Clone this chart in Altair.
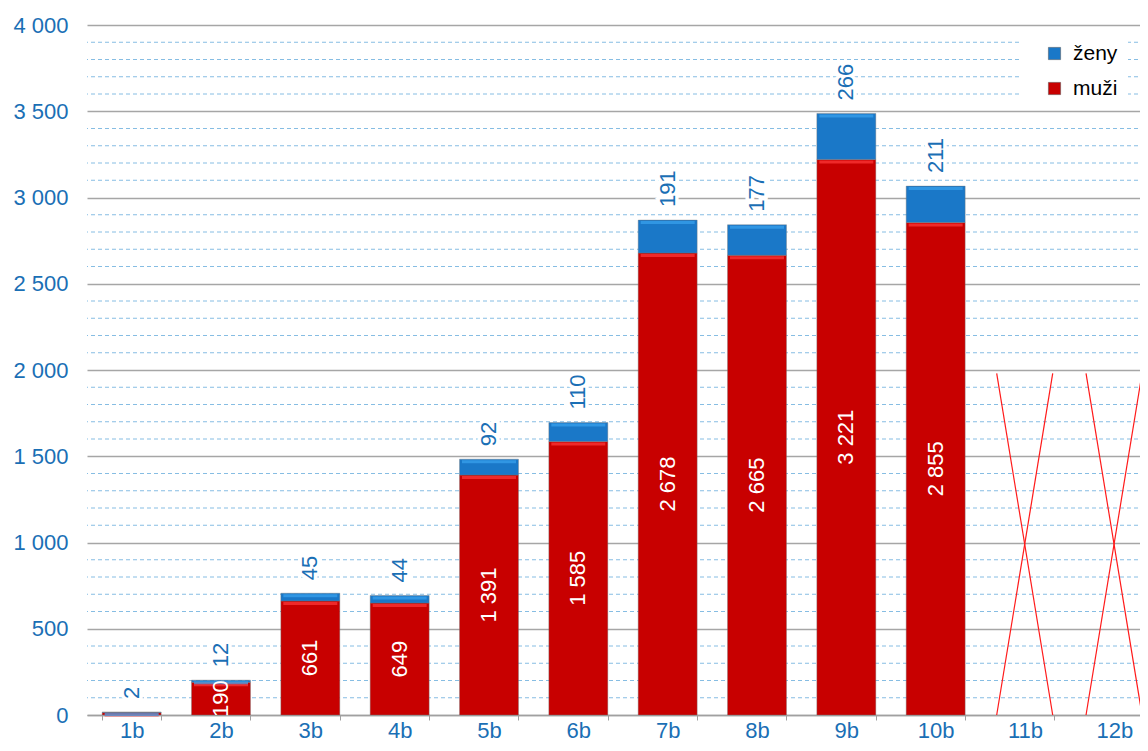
import altair as alt
import pandas as pd

# ---- data ----
categories = ["1b", "2b", "3b", "4b", "5b", "6b", "7b", "8b", "9b", "10b", "11b", "12b"]
data_categories = ["1b", "2b", "3b", "4b", "5b", "6b", "7b", "8b", "9b", "10b"]
muzi = [15, 190, 661, 649, 1391, 1585, 2678, 2665, 3221, 2855]
zeny = [2, 12, 45, 44, 92, 110, 191, 177, 266, 211]
muzi_labels = ["", "190", "661", "649", "1 391", "1 585", "2 678", "2 665", "3 221", "2 855"]
zeny_labels = ["2", "12", "45", "44", "92", "110", "191", "177", "266", "211"]
series = ["ženy", "muži"]
series_colors = ["#1a78c8", "#c80000"]
y_ticks = [0, 500, 1000, 1500, 2000, 2500, 3000, 3500, 4000]
minor_ticks = [v for v in range(100, 4000, 100) if v % 500 != 0]
crossed_categories = ["11b", "12b"]
cross_top = 1980

# ---- tables ----
long_rows = []
for c, m, z in zip(data_categories, muzi, zeny):
    long_rows.append({"cat": c, "series": "muži", "value": m, "ord": 0})
    long_rows.append({"cat": c, "series": "ženy", "value": z, "ord": 1})
long_df = pd.DataFrame(long_rows)

wide_df = pd.DataFrame({
    "cat": data_categories, "muzi": muzi, "zeny": zeny,
    "ml": muzi_labels, "zl": zeny_labels,
})

minor_df = pd.DataFrame({"v": minor_ticks})

cross_rows = []
for c in crossed_categories:
    cross_rows.append({"cat": c, "ya": cross_top, "yb": 0})
    cross_rows.append({"cat": c, "ya": 0, "yb": cross_top})
cross_df = pd.DataFrame(cross_rows)

FONT = "Liberation Sans"
LABEL_BLUE = "#1a6fb5"
FS = 22

xscale = alt.Scale(domain=categories, paddingInner=0.34, paddingOuter=0.17)
yscale = alt.Scale(domain=[0, 4000], nice=False, zero=True)

x_plain = alt.X("cat:N", scale=xscale, title=None)
def y_plain(f):
    return alt.Y(f, type="quantitative", scale=yscale, title=None)

W, H = 1072, 690

# minor dashed gridlines
minor = alt.Chart(minor_df).mark_rule(
    color="#86bde3", strokeWidth=1, strokeDash=[4, 3]
).encode(y=y_plain("v"))

# bars
bars = alt.Chart(long_df).mark_bar(stroke="#7a7a7a", strokeWidth=0.4).encode(
    x=alt.X("cat:N", scale=xscale, title=None,
            axis=alt.Axis(labelAngle=0, labelColor=LABEL_BLUE, labelFontSize=FS,
                          labelFont=FONT, domainColor="#a0a0a0", domainWidth=1.5,
                          tickColor="#a0a0a0", tickSize=5, tickBand="extent",
                          labelPadding=0, grid=False)),
    y=alt.Y("value:Q", stack="zero", scale=yscale, title=None,
            axis=alt.Axis(values=y_ticks, labelExpr="replace(format(datum.value, ','), ',', ' ')",
                          labelColor=LABEL_BLUE, labelFontSize=FS, labelFont=FONT,
                          domain=False, ticks=False, labelPadding=19,
                          grid=True, gridColor="#a6a6a6", gridWidth=1.5)),
    color=alt.Color("series:N", scale=alt.Scale(domain=series, range=series_colors),
                    legend=alt.Legend(title=None, orient="none", legendX=933, legendY=8,
                                      symbolType="square", symbolSize=150,
                                      symbolStrokeWidth=0.5, symbolStrokeColor="#555",
                                      symbolOffset=14,
                                      labelFontSize=21, labelFont=FONT, labelColor="#000",
                                      rowPadding=13, labelOffset=8, padding=10,
                                      fillColor="white")),
    order=alt.Order("ord:Q"),
)

# bevel highlights on segment tops
hl_m = alt.Chart(wide_df).mark_tick(color="#ff3a3a", thickness=3, size=54, yOffset=2.5).encode(
    x=x_plain, y=y_plain("muzi"))
hl_z = alt.Chart(wide_df).transform_calculate(total="datum.muzi + datum.zeny").mark_tick(
    color="#3aa3ee", thickness=3, size=54, yOffset=2.5).encode(
    x=x_plain, y=y_plain("total"))

# men labels inside bars
men_text = alt.Chart(wide_df).transform_calculate(mid="datum.muzi / 2").mark_text(
    angle=270, color="white", fontSize=FS, font=FONT, align="center", baseline="middle"
).encode(x=x_plain, y=y_plain("mid"), text="ml:N")

# women labels above bars (white knock-out then text)
z_base = alt.Chart(wide_df).transform_calculate(total="datum.muzi + datum.zeny")
women_bg = z_base.mark_text(
    angle=270, color="white", stroke="white", strokeWidth=7, fontSize=FS, font=FONT,
    align="left", baseline="middle", dx=13
).encode(x=x_plain, y=y_plain("total"), text="zl:N")
women_text = z_base.mark_text(
    angle=270, color=LABEL_BLUE, fontSize=FS, font=FONT,
    align="left", baseline="middle", dx=13
).encode(x=x_plain, y=y_plain("total"), text="zl:N")

# red crosses for missing categories
cross = alt.Chart(cross_df).mark_rule(color="#ff1a1a", strokeWidth=1.2).encode(
    x=alt.X("cat:N", scale=xscale, title=None, bandPosition=0.02),
    x2=alt.X2("cat", bandPosition=0.97),
    y=y_plain("ya"), y2=alt.Y2("yb"),
)

chart = alt.layer(minor, bars, hl_m, hl_z, men_text, women_bg, women_text, cross).properties(
    width=W, height=H,
    autosize=alt.AutoSizeParams(type="none"),
    padding={"left": 79, "top": 17, "right": -19, "bottom": 28},
).configure(font=FONT).configure_view(stroke=None)

chart.save("out.html", embed_options={"renderer": "svg", "actions": False})
